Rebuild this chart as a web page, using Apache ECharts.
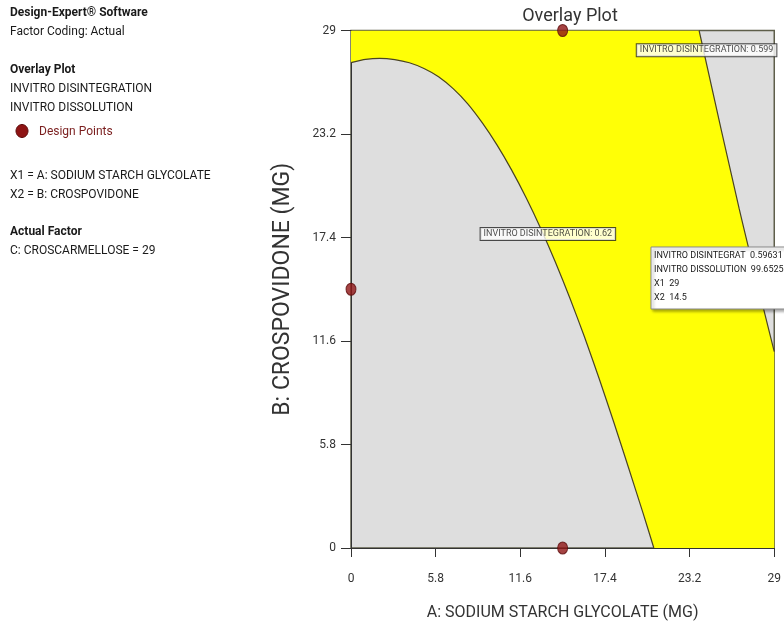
<!DOCTYPE html>
<html>
<head>
<meta charset="utf-8">
<script src="https://cdn.jsdelivr.net/npm/echarts@6/dist/echarts.min.js"></script>
<style>
  html, body { margin: 0; padding: 0; background: #ffffff; }
  #chart { width: 784px; height: 627px; }
</style>
</head>
<body>
<div id="chart"></div>
<script>
// Factor ranges (mg) and tick step for both axes
const axisMin = 0;
const axisMax = 29;
const tickStep = 5.8;

// Design points (A: sodium starch glycolate, B: crospovidone)
const designPoints = [[14.5, 29], [0, 14.5], [14.5, 0], [29, 14.5]];

// Contour: invitro disintegration = 0.62
const contourDisint062 = [
  [0, 27.2], [1, 27.38], [1.96, 27.44], [3, 27.37], [4, 27.19],
  [5, 26.87], [6, 26.41], [7, 25.74], [8, 24.89], [9, 23.82],
  [10, 22.59], [11, 21.19], [12, 19.63], [13, 17.91], [14, 16.03],
  [15, 14.0], [16, 11.82], [17, 9.5], [18, 7.06], [19, 4.54],
  [20, 1.98], [20.75, 0]
];

// Contour: invitro disintegration = 0.599
const contourDisint0599 = [[23.85, 29], [26.6, 19.0], [29, 11.0]];

// Contour labels: [x at left edge of box, y, text]
const contourLabels = [
  [8.88, 17.6, 'INVITRO DISINTEGRATION: 0.62'],
  [19.58, 27.9, 'INVITRO DISINTEGRATION: 0.599']
];

// Flag read-out at X1 = 29, X2 = 14.5
const flagLines = [
  'INVITRO DISINTEGRAT  0.59631',
  'INVITRO DISSOLUTION  99.6525',
  'X1  29',
  'X2  14.5'
];

// Side panel text
const panelLines = [
  { text: 'Design-Expert\u00ae Software', y: 13, bold: true },
  { text: 'Factor Coding: Actual', y: 32 },
  { text: 'Overlay Plot', y: 70, bold: true },
  { text: 'INVITRO DISINTEGRATION', y: 89 },
  { text: 'INVITRO DISSOLUTION', y: 108 },
  { text: 'X1 = A: SODIUM STARCH GLYCOLATE', y: 176 },
  { text: 'X2 = B: CROSPOVIDONE', y: 195 },
  { text: 'Actual Factor', y: 232, bold: true },
  { text: 'C: CROSCARMELLOSE = 29', y: 251 }
];

const FONT = 'Roboto';

// Feasible (yellow) region: top edge, 0.599 contour, right and bottom edges, 0.62 contour back up
const feasibleRegion = []
  .concat([[axisMin, axisMax]])
  .concat(contourDisint0599)
  .concat([[axisMax, axisMin]])
  .concat(contourDisint062.slice().reverse());

const chart = echarts.init(document.getElementById('chart'), null, { renderer: 'canvas' });

const graphics = panelLines.map(l => ({
  type: 'text',
  x: 10,
  y: l.y,
  style: {
    text: l.text,
    font: (l.bold ? 'bold ' : '') + '12px ' + FONT,
    fill: '#1a1a1a',
    verticalAlign: 'middle'
  }
}));

graphics.push({
  type: 'ellipse',
  shape: { cx: 22, cy: 131, rx: 6, ry: 6.5 },
  style: { fill: '#8e1414', stroke: '#5c0a0a', lineWidth: 1 }
});
graphics.push({
  type: 'text',
  x: 39,
  y: 132,
  style: { text: 'Design Points', font: '12px ' + FONT, fill: '#7a1e1e', verticalAlign: 'middle' }
});

// Flag box
graphics.push({
  type: 'rect',
  x: 651,
  y: 247,
  z: 200,
  zlevel: 1,
  shape: { x: 0, y: 0, width: 140, height: 62 },
  style: {
    fill: '#ffffff', stroke: '#8a8a8a', lineWidth: 1,
    shadowBlur: 3, shadowOffsetX: 2, shadowOffsetY: 2, shadowColor: 'rgba(0,0,0,0.35)'
  }
});
graphics.push({
  type: 'text',
  x: 654,
  y: 249,
  z: 201,
  zlevel: 1,
  style: {
    text: flagLines.join('\n'),
    font: '9px ' + FONT,
    lineHeight: 14,
    fill: '#1a1a1a'
  }
});

const option = {
  animation: false,
  backgroundColor: '#ffffff',
  title: {
    text: 'Overlay Plot',
    left: 565,
    textAlign: 'center',
    top: 2,
    textStyle: { fontFamily: FONT, fontSize: 18, fontWeight: 'normal', color: '#333333' }
  },
  grid: {
    left: 351,
    right: 5,
    top: 30.5,
    bottom: 79,
    show: true,
    backgroundColor: '#dedede',
    borderColor: '#5e5e4a',
    borderWidth: 1.5
  },
  xAxis: {
    type: 'value',
    min: axisMin,
    max: axisMax,
    interval: tickStep,
    name: 'A: SODIUM STARCH GLYCOLATE (MG)',
    nameLocation: 'middle',
    nameGap: 57,
    nameTextStyle: { fontFamily: FONT, fontSize: 16, color: '#333333' },
    axisLine: { show: true, lineStyle: { color: '#333333', width: 1 } },
    axisTick: { show: true, length: 9, lineStyle: { color: '#333333' } },
    axisLabel: { fontFamily: FONT, fontSize: 12, color: '#333333', margin: 25 },
    splitLine: { show: false }
  },
  yAxis: {
    type: 'value',
    min: axisMin,
    max: axisMax,
    interval: tickStep,
    name: 'B: CROSPOVIDONE (MG)',
    nameLocation: 'middle',
    nameGap: 56,
    nameTextStyle: { fontFamily: FONT, fontSize: 23, color: '#333333' },
    axisLine: { show: true, lineStyle: { color: '#333333', width: 1 } },
    axisTick: { show: true, length: 10, lineStyle: { color: '#333333' } },
    axisLabel: { fontFamily: FONT, fontSize: 12, color: '#333333', margin: 15 },
    splitLine: { show: false }
  },
  series: [
    {
      name: 'Feasible region',
      type: 'custom',
      clip: true,
      z: 1,
      data: [[0, 0]],
      renderItem: function (params, api) {
        const pts = feasibleRegion.map(p => api.coord(p));
        return {
          type: 'polygon',
          shape: { points: pts },
          style: { fill: '#ffff06', stroke: 'none' }
        };
      }
    },
    {
      name: 'INVITRO DISINTEGRATION 0.62',
      type: 'line',
      data: contourDisint062,
      symbol: 'none',
      smooth: 0.2,
      z: 3,
      lineStyle: { color: '#4a4424', width: 1.2 }
    },
    {
      name: 'INVITRO DISINTEGRATION 0.599',
      type: 'line',
      data: contourDisint0599,
      symbol: 'none',
      smooth: 0.3,
      z: 3,
      lineStyle: { color: '#4a4424', width: 1.2 }
    },
    {
      name: 'Contour labels',
      type: 'scatter',
      data: contourLabels,
      symbolSize: 0,
      z: 5,
      labelLayout: { hideOverlap: false },
      label: {
        show: true,
        position: 'right',
        distance: 0,
        formatter: p => p.value[2],
        fontFamily: FONT,
        fontSize: 9,
        color: '#1a1a1a',
        backgroundColor: '#ffffff',
        borderColor: '#222222',
        borderWidth: 1,
        padding: [2, 3, 1, 3]
      }
    },
    {
      name: 'Design Points',
      type: 'scatter',
      data: designPoints,
      symbol: 'circle',
      symbolSize: [10, 12],
      clip: false,
      z: 6,
      itemStyle: { color: '#8e1414', borderColor: '#5c0a0a', borderWidth: 1 }
    }
  ],
  graphic: graphics
};

chart.setOption(option);
</script>
</body>
</html>
